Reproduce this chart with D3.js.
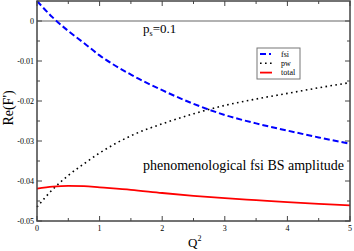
<!DOCTYPE html>
<html>
<head>
<meta charset="utf-8">
<script src="https://cdn.jsdelivr.net/npm/d3@7"></script>
<style>
  body { margin: 0; background: #fff; }
  text { font-family: "Liberation Serif", "DejaVu Serif", serif; }
</style>
</head>
<body>
<svg id="chart" width="354" height="251"></svg>
<script>
// Q^2 grid shared by all curves
const q2 = [0, 0.25, 0.5, 0.75, 1, 1.5, 2, 2.5, 3, 3.5, 4, 4.5, 5];
const fsi = [0.005, 0.0009, -0.0025, -0.0055, -0.0086, -0.0134, -0.0173, -0.0207, -0.0235, -0.0256, -0.0274, -0.0291, -0.0307];
const pw = [-0.0465, -0.0421, -0.0386, -0.0357, -0.033, -0.0287, -0.0257, -0.0232, -0.0211, -0.0195, -0.0181, -0.0167, -0.0154];
const total = [-0.0419, -0.0414, -0.0412, -0.0413, -0.0416, -0.0422, -0.043, -0.0437, -0.0443, -0.0448, -0.0453, -0.0457, -0.0461];
const xTicks = [0, 1, 2, 3, 4, 5];
const yTicks = [0, -0.01, -0.02, -0.03, -0.04, -0.05];
const yTickLabels = ["0", "-0.01", "-0.02", "-0.03", "-0.04", "-0.05"];
const legendNames = ["fsi", "pw", "total"];

const svg = d3.select("#chart");
const plotL = 37, plotR = 350, plotT = 1, plotB = 221;

const x = d3.scaleLinear().domain([0, 5]).range([plotL, plotR]);
const y = d3.scaleLinear().domain([-0.05, 0.005]).range([plotB, plotT]);

// zero line
svg.append("line")
  .attr("x1", plotL).attr("x2", plotR)
  .attr("y1", y(0)).attr("y2", y(0))
  .attr("stroke", "#999").attr("stroke-width", 1.5);

// curves
const line = d3.line()
  .x((d, i) => x(q2[i]))
  .y(d => y(d))
  .curve(d3.curveMonotoneX);

const series = [
  { values: fsi, color: "#0000ff", dash: "6,3", width: 2 },
  { values: pw, color: "#000", dash: "1.6,3.4", width: 1.6 },
  { values: total, color: "#ff0000", dash: null, width: 1.8 }
];

series.forEach(s => {
  svg.append("path")
    .attr("d", line(s.values))
    .attr("fill", "none")
    .attr("stroke", s.color)
    .attr("stroke-width", s.width)
    .attr("stroke-dasharray", s.dash);
});

// frame
svg.append("rect")
  .attr("x", plotL).attr("y", plotT)
  .attr("width", plotR - plotL).attr("height", plotB - plotT)
  .attr("fill", "none").attr("stroke", "#444").attr("stroke-width", 1.5);

// ticks (inward, on all four sides)
const xMinor = d3.range(0.5, 5, 1);
const yMinor = d3.range(-0.045, 0.005, 0.01);
const tickG = svg.append("g").attr("stroke", "#444").attr("stroke-width", 1);
xTicks.concat(xMinor).forEach(t => {
  const len = xTicks.includes(t) ? 5 : 3;
  tickG.append("line").attr("x1", x(t)).attr("x2", x(t)).attr("y1", plotB).attr("y2", plotB - len);
  tickG.append("line").attr("x1", x(t)).attr("x2", x(t)).attr("y1", plotT).attr("y2", plotT + len);
});
yTicks.concat(yMinor).forEach(t => {
  const len = yTicks.includes(t) ? 5 : 3;
  tickG.append("line").attr("x1", plotL).attr("x2", plotL + len).attr("y1", y(t)).attr("y2", y(t));
  tickG.append("line").attr("x1", plotR).attr("x2", plotR - len).attr("y1", y(t)).attr("y2", y(t));
});

// tick labels
svg.selectAll(".xl").data(xTicks).join("text")
  .attr("x", d => x(d)).attr("y", 231)
  .attr("text-anchor", "middle").attr("font-size", 8)
  .text(d => d);
svg.selectAll(".yl").data(yTicks).join("text")
  .attr("x", 34).attr("y", d => y(d) + 3)
  .attr("text-anchor", "end").attr("font-size", 8)
  .text((d, i) => yTickLabels[i]);

// axis titles
svg.append("text")
  .attr("transform", "translate(13,108) rotate(-90)")
  .attr("text-anchor", "middle").attr("font-size", 14)
  .text("Re(F')");
const xt = svg.append("text").attr("x", 188).attr("y", 247).attr("font-size", 13);
xt.append("tspan").text("Q");
xt.append("tspan").attr("dy", -6).attr("font-size", 8).text("2");

// annotations
const ps = svg.append("text").attr("x", 143).attr("y", 33).attr("font-size", 13);
ps.append("tspan").text("p");
ps.append("tspan").attr("dy", 3).attr("font-size", 8).text("s");
ps.append("tspan").attr("dy", -3).text("=0.1");
svg.append("text")
  .attr("x", 143).attr("y", 170).attr("font-size", 14)
  .attr("textLength", 201).attr("lengthAdjust", "spacingAndGlyphs")
  .text("phenomenological fsi BS amplitude");

// legend
const lg = svg.append("g");
lg.append("rect")
  .attr("x", 257).attr("y", 48).attr("width", 43).attr("height", 31)
  .attr("fill", "#fff").attr("stroke", "#777").attr("stroke-width", 1);
legendNames.forEach((name, i) => {
  const ly = 54 + i * 9.3;
  const s = series[i];
  lg.append("line")
    .attr("x1", 260).attr("x2", 272).attr("y1", ly).attr("y2", ly)
    .attr("stroke", s.color).attr("stroke-width", s.width)
    .attr("stroke-dasharray", i === 0 ? "6,3,2,3" : s.dash);
  lg.append("text")
    .attr("x", 281).attr("y", ly + 2.5).attr("font-size", 8)
    .text(name);
});
</script>
</body>
</html>
